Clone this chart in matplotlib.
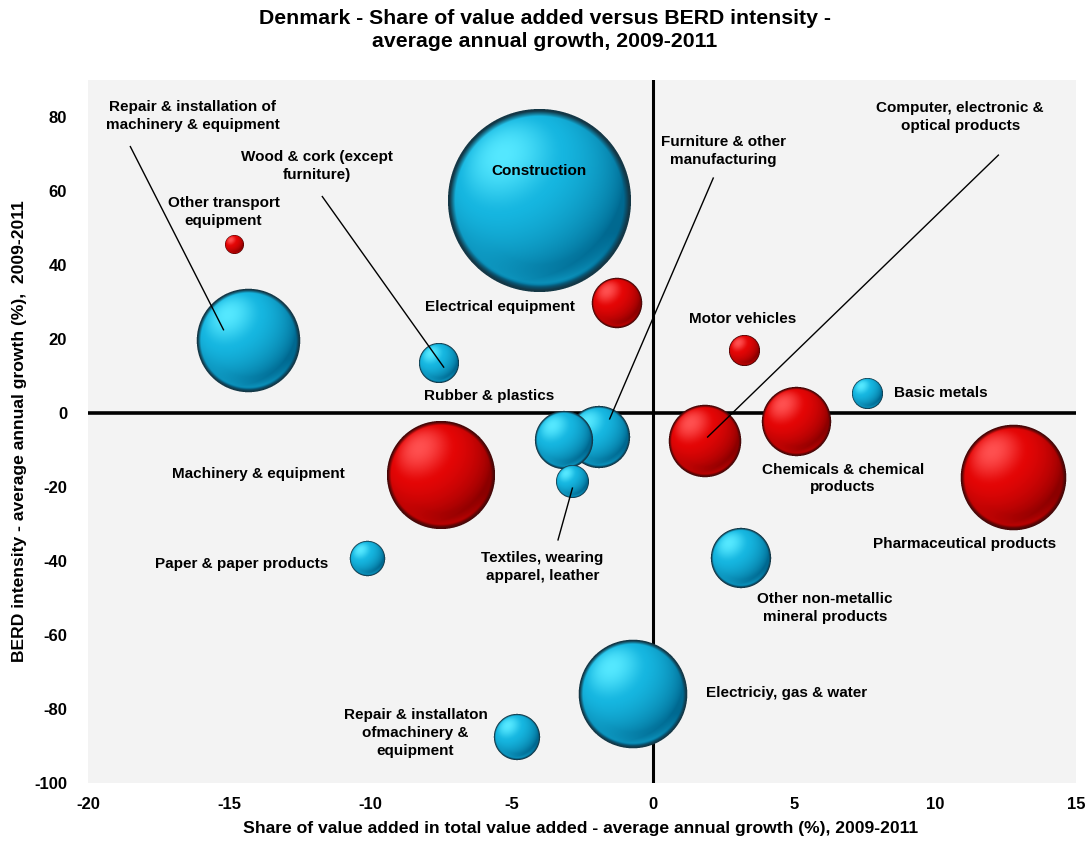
import matplotlib
matplotlib.use("Agg")
import matplotlib.pyplot as plt
import numpy as np
from matplotlib.offsetbox import OffsetImage, AnnotationBbox

plt.rcParams["font.family"] = ["Liberation Sans", "DejaVu Sans"]
plt.rcParams["font.weight"] = "bold"
plt.rcParams["axes.unicode_minus"] = False

# industry, x = share of value added growth, y = BERD intensity growth, bubble size
industries = [
    "Construction", "Other transport equipment", "Repair & installation of machinery & equipment",
    "Wood & cork (except furniture)", "Electrical equipment", "Motor vehicles", "Basic metals",
    "Furniture & other manufacturing", "Rubber & plastics", "Textiles, wearing apparel, leather",
    "Computer, electronic & optical products", "Chemicals & chemical products",
    "Pharmaceutical products", "Machinery & equipment", "Paper & paper products",
    "Other non-metallic mineral products", "Electriciy, gas & water",
    "Repair & installaton of machinery & equipment (2)",
]
va_growth = [-4.0, -14.8, -14.3, -7.55, -1.25, 3.25, 7.6, -1.9, -3.15, -2.85,
             1.85, 5.1, 12.8, -7.5, -10.1, 3.15, -0.7, -4.8]
berd_growth = [57.5, 45.5, 19.5, 13.5, 29.8, 16.8, 5.2, -6.5, -7.2, -18.4,
               -7.6, -2.3, -17.5, -16.8, -39.3, -39.3, -76.0, -87.5]
bubble_size = [83.0, 0.9, 26.5, 4.0, 6.3, 2.4, 2.4, 9.6, 8.4, 2.7,
               13.0, 11.9, 27.6, 29.0, 3.1, 9.0, 29.2, 5.3]
is_red = [False, True, False, False, True, True, False, False, False, False,
          True, True, True, True, False, False, False, False]

CYAN = dict(dark=(0, 105, 145), base=(22, 182, 224), light=(85, 232, 255), rim=(20, 55, 70))
RED = dict(dark=(140, 0, 0), base=(228, 6, 6), light=(255, 80, 80), rim=(70, 8, 8))


def sphere_image(radius, dark, base, light, rim, ss=4):
    """Shaded ball as an RGBA array, lit from the upper left."""
    d = int(np.ceil(2 * radius)) + 3
    n = d * ss
    c = (n - 1) / 2
    yy, xx = np.mgrid[0:n, 0:n]
    u = (xx - c) / (radius * ss)
    v = (yy - c) / (radius * ss)
    r2 = u ** 2 + v ** 2
    r = np.sqrt(r2)
    inside = r2 <= 1.0
    z = np.sqrt(np.clip(1 - r2, 0, 1))
    light_dir = np.array([-0.40, -0.50, 0.77])
    light_dir /= np.linalg.norm(light_dir)
    t = np.clip(u * light_dir[0] + v * light_dir[1] + z * light_dir[2], 0, 1)

    dark, base, light, rim = (np.array(a, float) / 255 for a in (dark, base, light, rim))
    lo = np.clip(t / 0.78, 0, 1)[..., None] ** 0.8
    hi = np.clip((t - 0.78) / 0.22, 0, 1)[..., None] ** 1.6
    rgb = dark + (base - dark) * lo
    rgb = rgb + (light - rgb) * hi
    # soft reflected light along the lower edge
    glow = np.clip((v - 0.35) / 0.5, 0, 1) * np.clip((r - 0.7) / 0.2, 0, 1)
    glow = glow * np.clip((0.95 - r) / 0.05, 0, 1)
    rgb = rgb + (base - rgb) * (0.5 * glow)[..., None]
    # thin dark outline
    edge = np.clip((r - 0.92) / 0.06, 0, 1)[..., None]
    rgb = rgb + (rim - rgb) * edge
    rgb[~inside] = rim

    rgba = np.dstack([rgb, inside.astype(float)])
    rgba = rgba.reshape(d, ss, d, ss, 4).mean(axis=(1, 3))
    return np.clip(rgba, 0, 1)


fig = plt.figure(figsize=(10.91, 8.42), dpi=100)
ax = fig.add_axes([88 / 1091, 1 - 783 / 842, 988 / 1091, 703 / 842])
ax.set_facecolor("#f3f3f3")
ax.set_xlim(-20, 15)
ax.set_ylim(-100, 90)
for s in ax.spines.values():
    s.set_visible(False)
ax.set_xticks(np.arange(-20, 16, 5))
ax.set_yticks(np.arange(-100, 81, 20))
ax.tick_params(length=0, labelsize=12)
ax.tick_params(axis="x", pad=10)
ax.tick_params(axis="y", pad=15)
for lab in ax.get_xticklabels() + ax.get_yticklabels():
    lab.set_fontweight("bold")

ax.axhline(0, color="black", lw=2.6, zorder=1)
ax.axvline(0, color="black", lw=2.2, zorder=1)

for i, (x, y, size, red) in enumerate(zip(va_growth, berd_growth, bubble_size, is_red)):
    radius = 10.05 * np.sqrt(size)
    img = sphere_image(radius, **(RED if red else CYAN))
    box = AnnotationBbox(OffsetImage(img, zoom=1, dpi_cor=False), (x, y),
                         frameon=False, pad=0, box_alignment=(0.5, 0.5), zorder=2 + i * 0.01)
    ax.add_artist(box)

# leader lines from labels to their bubbles
leaders = [
    ((-18.5, 72.0), (-15.2, 22.5)),
    ((-11.7, 58.5), (-7.4, 12.4)),
    ((2.15, 63.5), (-1.52, -1.6)),
    ((12.25, 69.7), (1.95, -6.5)),
    ((-3.35, -34.3), (-2.84, -20.3)),
]
for (x0, y0), (x1, y1) in leaders:
    ax.plot([x0, x1], [y0, y1], color="black", lw=1.0, zorder=5)

fs = 11
labels = [
    ("Repair & installation of\nmachinery & equipment", -16.3, 80.3),
    ("Other transport\nequipment", -15.2, 54.3),
    ("Wood & cork (except\nfurniture)", -11.9, 66.8),
    ("Construction", -4.04, 65.4),
    ("Electrical equipment", -5.4, 28.6),
    ("Furniture & other\nmanufacturing", 2.5, 70.8),
    ("Computer, electronic &\noptical products", 10.9, 80.0),
    ("Motor vehicles", 3.2, 25.4),
    ("Basic metals", 10.2, 5.4),
    ("Rubber & plastics", -5.8, 4.6),
    ("Machinery & equipment", -13.97, -16.5),
    ("Chemicals & chemical\nproducts", 6.75, -17.7),
    ("Pharmaceutical products", 11.05, -35.4),
    ("Textiles, wearing\napparel, leather", -3.9, -41.6),
    ("Paper & paper products", -14.55, -40.8),
    ("Other non-metallic\nmineral products", 6.1, -52.7),
    ("Electriciy, gas & water", 4.75, -75.7),
    ("Repair & installaton\nofmachinery &\nequipment", -8.4, -86.5),
]
for text, x, y in labels:
    ax.text(x, y, text, ha="center", va="center", fontsize=fs, fontweight="bold",
            linespacing=1.35, zorder=6)

ax.set_xlabel("Share of value added in total value added - average annual growth (%), 2009-2011",
              fontsize=12.6, fontweight="bold")
ax.xaxis.set_label_coords(0.499, -0.054)
ax.set_ylabel("BERD intensity - average annual growth (%),  2009-2011",
              fontsize=12.6, fontweight="bold")
ax.yaxis.set_label_coords(-0.0617, 0.5)

fig.text(0.4995, 1 - 30 / 842,
         "Denmark - Share of value added versus BERD intensity -\naverage annual growth, 2009-2011",
         ha="center", va="center", fontsize=15.3, fontweight="bold", linespacing=1.28)

fig.savefig("out.png", dpi=100)
